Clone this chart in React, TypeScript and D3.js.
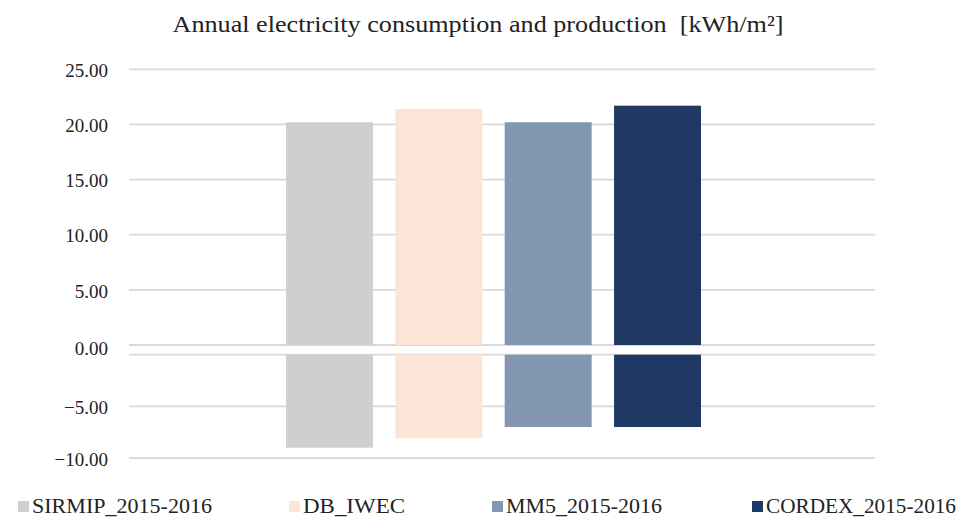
import React from "react";
import * as d3 from "d3";

// Series (one bar each) with annual consumption (positive) and production (negative)
const seriesNames = ["SIRMIP_2015-2016", "DB_IWEC", "MM5_2015-2016", "CORDEX_2015-2016"];
const consumption = [20.2, 21.4, 20.2, 21.7];
const production = [-9.0, -8.1, -7.0, -7.0];
const seriesColors = ["#d0cfd0", "#fbe5d6", "#8497b0", "#1f3864"];

const upperTicks = [0, 5, 10, 15, 20, 25];
const lowerTicks = [-5, -10];

const W = 960;
const H = 520;
const FONT = "'Liberation Serif', 'Times New Roman', serif";

const fmt = (v: number) => (v < 0 ? "\u2212" + Math.abs(v).toFixed(2) : v.toFixed(2));

export default function App() {
  const gridX0 = 129;
  const gridX1 = 875;

  // Two stacked panels sharing the x layout: upper for consumption, lower for production
  const yUp = d3.scaleLinear().domain([0, 25]).range([345, 69.3]);
  const yDown = d3.scaleLinear().domain([-10, 0]).range([458, 354.7]);

  const x = d3.scaleBand<string>().domain(seriesNames).range([286, 701]).paddingInner(0.205).paddingOuter(0);

  const legendX = [18, 289, 492, 752];
  const legendTextW = [180, 102, 156, 190];

  return (
    <svg width={W} height={H} style={{ position: "absolute", left: 0, top: 0, background: "#fff" }}>
      <text x={478} y={31.7} textAnchor="middle" fontFamily={FONT} fontSize={23} fill="#222"
        textLength={611} lengthAdjust="spacingAndGlyphs">
        {"Annual electricity consumption and production\u00a0 [kWh/m²]"}
      </text>

      {/* gridlines */}
      {upperTicks.map((t) => (
        <line key={"gu" + t} x1={gridX0} x2={gridX1} y1={yUp(t)} y2={yUp(t)} stroke="#d9d9d9" strokeWidth={1.8} />
      ))}
      {[0, ...lowerTicks].map((t) => (
        <line key={"gd" + t} x1={gridX0} x2={gridX1} y1={yDown(t)} y2={yDown(t)} stroke="#d9d9d9" strokeWidth={1.8} />
      ))}

      {/* tick labels */}
      {upperTicks.map((t) => (
        <text key={"lu" + t} x={108} y={t === 0 ? 348 : yUp(t) + 1} dy="0.35em" textAnchor="end"
          fontFamily={FONT} fontSize={19} fill="#222">{fmt(t)}</text>
      ))}
      {lowerTicks.map((t) => (
        <text key={"ld" + t} x={108} y={yDown(t) + 1} dy="0.35em" textAnchor="end"
          fontFamily={FONT} fontSize={19} fill="#222">{fmt(t)}</text>
      ))}

      {/* bars */}
      {seriesNames.map((s, i) => (
        <g key={s}>
          <rect x={x(s)} y={yUp(consumption[i])} width={x.bandwidth()} height={yUp(0) - yUp(consumption[i])} fill={seriesColors[i]} />
          <rect x={x(s)} y={yDown(0)} width={x.bandwidth()} height={yDown(production[i]) - yDown(0)} fill={seriesColors[i]} />
        </g>
      ))}

      {/* legend */}
      {seriesNames.map((s, i) => (
        <g key={"lg" + s}>
          <rect x={legendX[i]} y={501} width={11} height={11} fill={seriesColors[i]} />
          <text x={legendX[i] + 14} y={513.3} fontFamily={FONT} fontSize={20} fill="#222"
            textLength={legendTextW[i]} lengthAdjust="spacingAndGlyphs">{s}</text>
        </g>
      ))}
    </svg>
  );
}
